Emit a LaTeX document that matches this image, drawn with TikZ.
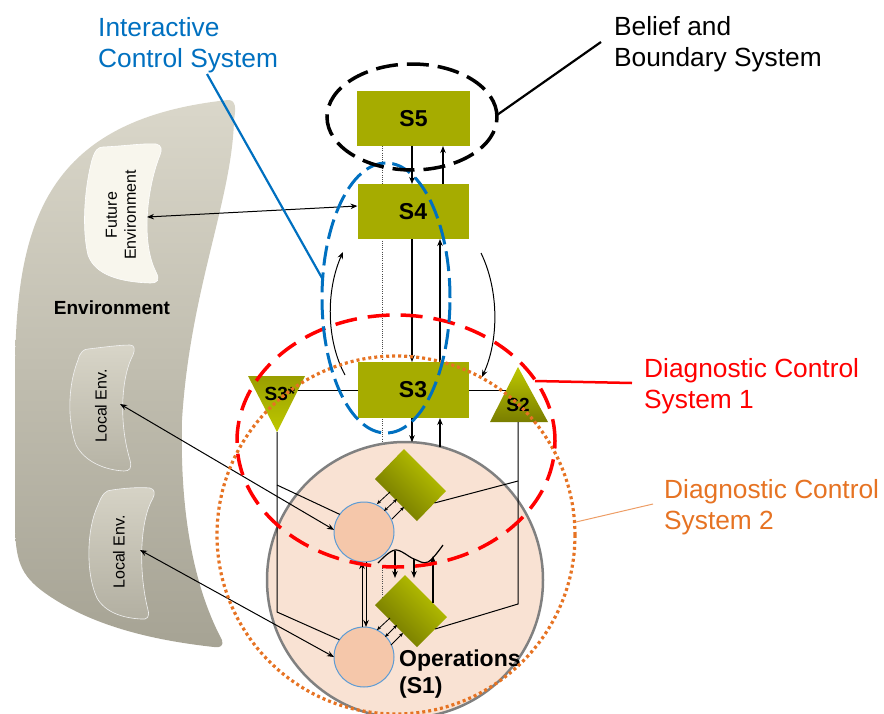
\documentclass[tikz,border=0pt]{standalone}
\usepackage{fontspec}
\setmainfont{Liberation Sans}
\usetikzlibrary{arrows.meta,shapes.geometric,calc}
\definecolor{olivec}{RGB}{166,172,0}
\definecolor{olivelt}{RGB}{190,200,0}
\definecolor{olivedk}{RGB}{110,114,0}
\definecolor{bluec}{RGB}{0,112,192}
\definecolor{redc}{RGB}{255,0,0}
\definecolor{orangec}{RGB}{230,115,35}
\definecolor{peach}{RGB}{249,226,211}
\definecolor{peachdk}{RGB}{245,199,170}
\definecolor{circedge}{RGB}{91,155,213}
\definecolor{envtop}{RGB}{218,215,202}
\definecolor{envbot}{RGB}{166,163,148}
\begin{document}
\begin{tikzpicture}[x=1pt,y=-1pt,
  sbox/.style={fill=olivec, inner sep=0pt, outer sep=0pt, minimum width=112pt, minimum height=55pt, font=\bfseries\fontsize{23}{27}\selectfont},
  arr/.style={-{Stealth[length=7pt,width=5.5pt]}, line width=1.1pt},
  barr/.style={{Stealth[length=7pt,width=5.5pt]}-{Stealth[length=7pt,width=5.5pt]}, line width=1pt},
  sarr/.style={-{Stealth[length=4pt,width=3.5pt]}, line width=0.8pt},
  sbarr/.style={{Stealth[length=4pt,width=3.5pt]}-{Stealth[length=4pt,width=3.5pt]}, line width=0.8pt},
  link/.style={line width=1pt},
  lbl/.style={font=\fontsize{26.3}{31.5}\selectfont, align=left, anchor=north west, inner sep=0pt},
  envtxt/.style={font=\fontsize{16}{19}\selectfont, rotate=90, align=center, inner sep=0pt},
  smallcirc/.style={circle, fill=peachdk, draw=circedge, line width=1pt, minimum size=60pt, inner sep=0pt, outer sep=0pt},
  diamshade/.style={top color=olivelt, bottom color=olivedk, shading angle=-45},
  dotv/.style={dash pattern=on 1pt off 1.2pt, line width=0.7pt, black!70}
]
\useasboundingbox (0,0) rectangle (884,713);

% ---------------- Environment ----------------
\path[top color=envtop, bottom color=envbot]
  (228,100) .. controls (236,100) and (236,108) .. (234,120)
  .. controls (232,200) and (190,290) .. (182,420)
  .. controls (180,500) and (190,580) .. (222,640)
  .. controls (224,646) and (220,648) .. (214,647)
  .. controls (150,640) and (90,625) .. (45,593)
  .. controls (20,575) and (15,560) .. (15,520)
  -- (15,380)
  .. controls (15,230) and (40,120) .. (228,100) -- cycle;
\path[fill={rgb,255:red,248;green,246;blue,237}, draw=white, line width=0.6pt]
  (103,147) .. controls (125,146) and (145,143) .. (156,144)
  .. controls (162,145) and (162,150) .. (160,155)
  .. controls (148,185) and (140,240) .. (156,272)
  .. controls (160,280) and (158,283) .. (150,283)
  .. controls (120,282) and (95,275) .. (88,255)
  .. controls (82,230) and (84,190) .. (92,160)
  .. controls (95,150) and (98,147) .. (103,147) -- cycle;
\path[top color={rgb,255:red,216;green,213;blue,200}, bottom color={rgb,255:red,182;green,179;blue,165}, draw=white!90!gray, line width=0.6pt]
  (88,349) .. controls (105,347) and (120,345) .. (130,345)
  .. controls (135,345) and (135,350) .. (133,355)
  .. controls (122,375) and (118,420) .. (130,460)
  .. controls (132,468) and (130,471) .. (124,471)
  .. controls (105,470) and (85,462) .. (76,445)
  .. controls (67,420) and (68,385) .. (78,360)
  .. controls (80,352) and (84,349) .. (88,349) -- cycle;
\path[top color={rgb,255:red,214;green,211;blue,198}, bottom color={rgb,255:red,178;green,175;blue,161}, draw=white!90!gray, line width=0.6pt]
  (112,490) .. controls (125,488) and (140,487) .. (150,488)
  .. controls (155,489) and (155,494) .. (153,498)
  .. controls (140,520) and (138,570) .. (148,610)
  .. controls (150,617) and (147,620) .. (141,619)
  .. controls (122,618) and (105,612) .. (97,598)
  .. controls (86,575) and (86,530) .. (98,505)
  .. controls (102,494) and (106,490) .. (112,490) -- cycle;
\node[envtxt] (fetxt) at (121,215) {Future\\Environment};
\node[envtxt] (le1txt) at (101,406) {Local Env.};
\node[envtxt] (le2txt) at (119,552) {Local Env.};
\node[font=\bfseries\fontsize{19}{22}\selectfont, inner sep=0pt] (envlbl) at (112,308) {Environment};
\coordinate (fe) at (147,217);
\coordinate (le1) at (120,404);
\coordinate (le2) at (140,550);

% ---------------- dotted vertical ----------------
\draw[dotv] (382,146) -- (382,442);

% ---------------- Operations circle ----------------
\node[circle, fill=peach, draw={rgb,255:red,128;green,128;blue,128}, line width=2.5pt, minimum size=276pt, inner sep=0pt, outer sep=0pt] (ops) at (405,580) {};
\draw[dotv] (382,568) -- (382,600);

% ---------------- S boxes ----------------
\node[sbox, minimum width=113pt] (S5) at (413.5,118.5) {S5};
\node[sbox, minimum width=111pt] (S4) at (413,211.5) {S4};
\node[sbox, minimum width=111pt, minimum height=56pt] (S3) at (413,390) {S3};

% triangles
\coordinate (t3a) at (248,376);
\coordinate (t3b) at (305,376);
\coordinate (t3c) at (277,432);
\path[top color=olivec!92!black, bottom color=olivelt] (t3a) -- (t3b) -- (t3c) -- cycle;
\node[font=\bfseries\fontsize{19}{22}\selectfont, inner sep=0pt] (S3s) at (280,394) {S3*};
\coordinate (t2a) at (518,367);
\coordinate (t2b) at (548,422);
\coordinate (t2c) at (490,422);
\path[top color=olivelt, bottom color=olivedk!80!olivec] (t2a) -- (t2b) -- (t2c) -- cycle;
\node[font=\bfseries\fontsize{19}{22}\selectfont, inner sep=0pt] (S2) at (518,405) {S2};

% arrows between boxes
\draw[arr] ([xshift=-1.5pt]S5.south) -- ([xshift=-1pt]S4.north);
\draw[arr] ([xshift=30pt]S4.north) -- ([xshift=29.5pt]S5.south);
\draw[arr] ([xshift=-1pt]S4.south) -- ([xshift=-1pt]S3.north);
\draw[arr] ([xshift=27pt]S3.north) -- ([xshift=27pt]S4.south);
\draw[arr] ([xshift=-1pt]S3.south) -- ([xshift=-1pt]S3.south |- ops.87);
\draw[arr] ([xshift=27pt]S3.south |- ops.75) -- ([xshift=27pt]S3.south);
% curved arrows
\coordinate (cl1) at (345,375);
\coordinate (cl2) at (343,252);
\coordinate (cr1) at (481,253);
\coordinate (cr2) at (482,377);
\draw[arr, line width=1pt] (cl1) .. controls (326,340) and (326,290) .. (cl2);
\draw[arr, line width=1pt] (cr1) .. controls (499,290) and (499,340) .. (cr2);
% horizontal links
\coordinate (t3r) at (297.5,390);
\coordinate (t2l) at (505.5,390);
\draw[link] (t3r) -- (S3.west);
\draw[link] (S3.east) -- (t2l);
% environment arrow to S4
\draw[barr] (fe) -- ([yshift=5.5pt]S4.west);

% ---------------- inside operations ----------------
\node[smallcirc] (c1) at (364,532) {};
\node[smallcirc] (c2) at (364,657) {};
% diamonds (rotated rectangles)
\coordinate (d1l) at (375,479); \coordinate (d1t) at (404,449);
\coordinate (d1r) at (446,491); \coordinate (d1b) at (417,521);
\path[diamshade] (d1l) -- (d1t) -- (d1r) -- (d1b) -- cycle;
\coordinate (d2l) at (375,605); \coordinate (d2t) at (405,575);
\coordinate (d2r) at (447,617); \coordinate (d2b) at (417,647);
\path[diamshade] (d2l) -- (d2t) -- (d2r) -- (d2b) -- cycle;
\coordinate (d1e) at ($(d1r)!0.4!(d1b)$);
\coordinate (d2e) at ($(d2r)!0.4!(d2b)$);

% small arrows circle <-> diamond
\coordinate (a1s) at (390,492); \coordinate (a1e) at (377,504);
\coordinate (a2s) at (397,499); \coordinate (a2e) at (384,511);
\coordinate (a3s) at (392,519); \coordinate (a3e) at (404,507);
\draw[sarr] (a1s) -- (a1e);
\draw[sbarr] (a2s) -- (a2e);
\draw[sarr] (a3s) -- (a3e);
\coordinate (b1s) at (390,618); \coordinate (b1e) at (377,630);
\coordinate (b2s) at (397,625); \coordinate (b2e) at (385,637);
\coordinate (b3s) at (391,645); \coordinate (b3e) at (403,633);
\draw[sarr] (b1s) -- (b1e);
\draw[sbarr] (b2s) -- (b2e);
\draw[sarr] (b3s) -- (b3e);

% vertical arrows between circles
\draw[arr, line width=1pt] ([xshift=-2pt]c2.north) -- ([xshift=-2pt]c1.south);
\draw[arr, line width=1pt] ([xshift=2pt]c1.south) -- ([xshift=2pt]c2.north);

% wave
\coordinate (w1) at (395,551);
\coordinate (w2) at (414,559);
\coordinate (w3) at (433,556);
\draw[line width=1.2pt] plot[smooth, tension=0.6] coordinates {(378,563) (395,550) (414,559) (428,562) (443,545)};
\draw[arr] (w1) -- (395,578);
\draw[arr] (w2) -- (414,578);
\draw[arr] (433,603) -- (w3);

% S3* links
\coordinate (v3a) at (277,485);
\coordinate (v3b) at (277,612);
\draw[link] (t3c) -- (v3b) -- (c2.145);
\draw[link] (v3a) -- (c1.144);
% S2 links
\coordinate (v2top) at (518,422);
\coordinate (v2a) at (518,481);
\coordinate (v2b) at (518,604);
\draw[link] (v2top) -- (v2b) -- (d2e);
\draw[link] (v2a) -- (d1e);

% local env arrows
\draw[barr] (le1) -- (c1.176);
\draw[barr] (le2) -- (c2.180);

% Operations label
\node[font=\bfseries\fontsize{23}{27}\selectfont, align=left, anchor=north west, inner sep=0pt] (opslbl) at (399,650) {Operations\\(S1)};

% ---------------- control-system outlines ----------------
\draw[orangec, line width=3.2pt, dash pattern=on 3pt off 3pt] (396,535) circle [radius=179pt];
\draw[redc, line width=3.5pt, dash pattern=on 22pt off 11pt] (396,441) ellipse [x radius=159pt, y radius=126pt];
\draw[bluec, line width=3pt, dash pattern=on 20pt off 7pt] (386,298) ellipse [x radius=64pt, y radius=135pt];
\draw[black, line width=3.5pt, dash pattern=on 22pt off 9pt] (412,117) ellipse [x radius=85pt, y radius=53pt];

% ---------------- labels ----------------
\node[lbl, text=bluec] (icslbl) at (98,17) {Interactive\\Control System};
\node[lbl] (bbslbl) at (614,16) {Belief and\\Boundary System};
\node[lbl, text=redc] (dc1lbl) at (644,358) {Diagnostic Control\\System 1};
\node[lbl, text=orangec] (dc2lbl) at (664,479) {Diagnostic Control\\System 2};

\coordinate (bbsp) at (497,115);
\coordinate (icsp) at (322,278);
\coordinate (dc1p) at (535,381);
\coordinate (dc2p) at (576,522);
\draw[black, line width=2.2pt] (bbsp) -- (601,42);
\draw[bluec, line width=2.2pt] (207,74) -- (icsp);
\draw[redc, line width=2.5pt] (dc1p) -- (632,383);
\draw[orangec!70!white, line width=1pt] (dc2p) -- (653,504);
\end{tikzpicture}
\end{document}
